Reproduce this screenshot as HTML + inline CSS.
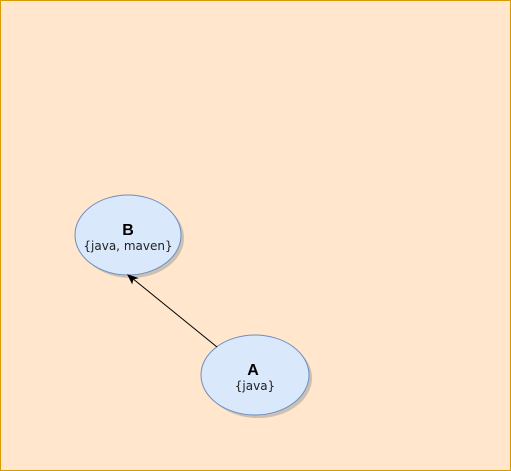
<!DOCTYPE html>
<html><head><style>
html,body{margin:0;padding:0;background:#ffe6cc;}
svg{display:block;}
</style></head><body>
<svg width="511" height="471" xmlns="http://www.w3.org/2000/svg">
<rect x="0.5" y="0.5" width="510" height="470" fill="#ffe6cc" stroke="#d79b00"/>
<ellipse cx="131" cy="238" rx="53" ry="40" fill="#999" opacity="0.5"/>
<ellipse cx="128" cy="235" rx="53" ry="40" fill="#dae8fc" stroke="#6c8ebf"/>
<ellipse cx="258" cy="378" rx="54" ry="40" fill="#999" opacity="0.5"/>
<ellipse cx="255" cy="375" rx="54" ry="40" fill="#dae8fc" stroke="#6c8ebf"/>
<line x1="217" y1="347" x2="132" y2="278" stroke="#000" stroke-width="1"/>
<path d="M128,275 L137,278 L133,279 L132,283 Z" fill="#000" stroke="#000"/>
<text x="128" y="235" font-family="Liberation Sans, sans-serif" font-size="16" font-weight="bold" text-anchor="middle">B</text>
<text x="128" y="250" font-family="DejaVu Sans, sans-serif" font-size="12" fill="#222" text-anchor="middle">{java, maven}</text>
<text x="253" y="375" font-family="Liberation Sans, sans-serif" font-size="16" font-weight="bold" text-anchor="middle">A</text>
<text x="255" y="390" font-family="DejaVu Sans, sans-serif" font-size="12" fill="#222" text-anchor="middle">{java}</text>
</svg>
</body></html>
